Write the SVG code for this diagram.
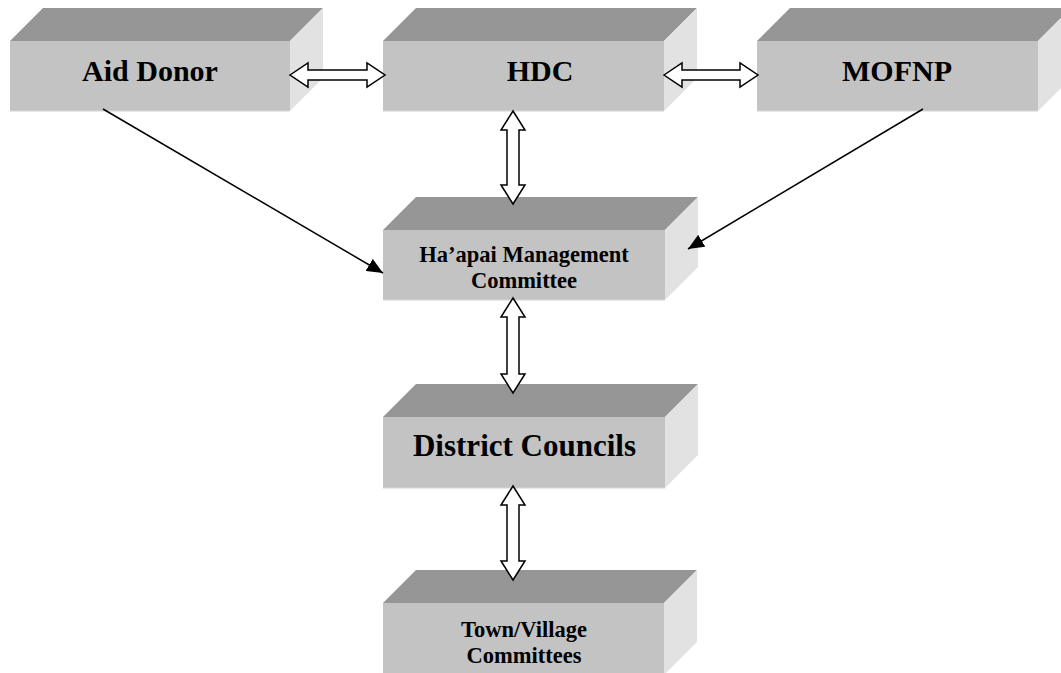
<svg xmlns="http://www.w3.org/2000/svg" width="1061" height="673" viewBox="0 0 1061 673">
<style>
.top{fill:#969696}
.front{fill:#c3c3c3}
.side{fill:#e2e2e2}
.edge{stroke:#d4d4d4;stroke-width:1;fill:none}
.big{font-family:"Liberation Serif","Times New Roman",serif;font-weight:bold;font-size:30px;fill:#000;text-anchor:middle}
.small{font-family:"Liberation Serif","Times New Roman",serif;font-weight:bold;font-size:22.5px;fill:#000;text-anchor:middle}
.blk{fill:#fff;stroke:#000;stroke-width:1.5;stroke-linejoin:miter}
.thin{stroke:#000;stroke-width:1.5;fill:none;marker-end:url(#ah)}
</style>
<defs>
<marker id="ah" viewBox="0 0 10 10" refX="10" refY="5" markerWidth="16" markerHeight="14" markerUnits="userSpaceOnUse" orient="auto" preserveAspectRatio="none">
<path d="M0,0 L10,5 L0,10 Z" fill="#000"/>
</marker>
</defs>
<rect width="1061" height="673" fill="#fff"/>

<g id="aid-donor">
<polygon class="top" points="10,41 43,8 323,8 290,41"/>
<polygon class="side" points="290,41 323,8 323,78 290,111"/>
<rect class="front" x="10" y="41" width="280" height="70"/>
<path class="edge" d="M10,111 H290"/>
<text class="big" x="150" y="81">Aid Donor</text>
</g>

<g id="hdc">
<polygon class="top" points="383,41 416,8 697,8 664,41"/>
<polygon class="side" points="664,41 697,8 697,78 664,111"/>
<rect class="front" x="383" y="41" width="281" height="70"/>
<path class="edge" d="M383,111 H664"/>
<text class="big" x="540" y="81">HDC</text>
</g>

<g id="mofnp">
<polygon class="top" points="757,41 790,8 1071,8 1038,41"/>
<polygon class="side" points="1038,41 1071,8 1071,78 1038,111"/>
<rect class="front" x="757" y="41" width="281" height="70"/>
<path class="edge" d="M757,111 H1038"/>
<text class="big" x="897" y="81">MOFNP</text>
</g>

<g id="hapai">
<polygon class="top" points="383,230 416,197 698,197 665,230"/>
<polygon class="side" points="665,230 698,197 698,267 665,300"/>
<rect class="front" x="383" y="230" width="282" height="70"/>
<path class="edge" d="M383,300 H665"/>
<text class="small" x="524" y="262">Ha’apai Management</text>
<text class="small" x="524" y="288">Committee</text>
</g>

<g id="district">
<polygon class="top" points="383,417 416,384 698,384 665,417"/>
<polygon class="side" points="665,417 698,384 698,455 665,488"/>
<rect class="front" x="383" y="417" width="282" height="71"/>
<path class="edge" d="M383,488 H665"/>
<text class="big" x="524.5" y="456" style="font-size:31px">District Councils</text>
</g>

<g id="town">
<polygon class="top" points="383,603 416,570 697,570 664,603"/>
<polygon class="side" points="664,603 697,570 697,642 664,675"/>
<rect class="front" x="383" y="603" width="281" height="72"/>
<text class="small" x="524" y="637">Town/Village</text>
<text class="small" x="524" y="663">Committees</text>
</g>

<g id="connectors">
<path class="blk" d="M290,75 L308,63 L308,70 L367,70 L367,63 L385,75 L367,87 L367,80 L308,80 L308,87 Z"/>
<path class="blk" d="M664,75 L682,63 L682,70 L740,70 L740,63 L758,75 L740,87 L740,80 L682,80 L682,87 Z"/>
<path class="blk" d="M513,111 L525,130 L519,130 L519,185 L525,185 L513,204 L501,185 L507,185 L507,130 L501,130 Z"/>
<path class="blk" d="M513,298 L525,317 L519,317 L519,374 L525,374 L513,393 L501,374 L507,374 L507,317 L501,317 Z"/>
<path class="blk" d="M513,486 L525,505 L519,505 L519,561 L525,561 L513,580 L501,561 L507,561 L507,505 L501,505 Z"/>
<line class="thin" x1="103" y1="109" x2="383" y2="273"/>
<line class="thin" x1="923" y1="109" x2="688" y2="249"/>
</g>
</svg>
